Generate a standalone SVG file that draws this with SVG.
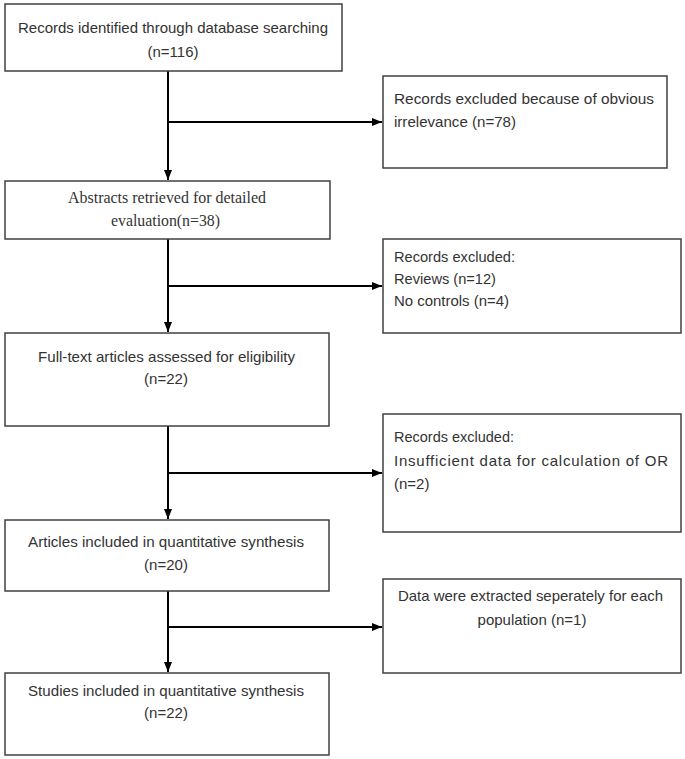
<svg xmlns="http://www.w3.org/2000/svg" width="685" height="759" viewBox="0 0 685 759">
<style>
.box{fill:#fff;stroke:#404040;stroke-width:1.5}
.t{font-family:"Liberation Sans",Arial,sans-serif;font-size:15px;fill:#333}
.s{font-family:"Liberation Serif","Times New Roman",serif;font-size:16px;fill:#333}
.c{text-anchor:middle}
.ln{stroke:#000;stroke-width:2;fill:none}
</style>
<defs>
<marker id="ah" markerWidth="10" markerHeight="8" refX="10" refY="4" orient="auto" markerUnits="userSpaceOnUse">
<path d="M0,0 L10,4 L0,8 z" fill="#000"/>
</marker>
</defs>
<rect width="685" height="759" fill="#fff"/>
<g id="connectors">
<path class="ln" d="M168,71 V180" marker-end="url(#ah)"/>
<path class="ln" d="M168,122 H382" marker-end="url(#ah)"/>
<path class="ln" d="M168,239 V332" marker-end="url(#ah)"/>
<path class="ln" d="M168,286 H382" marker-end="url(#ah)"/>
<path class="ln" d="M168,426 V519" marker-end="url(#ah)"/>
<path class="ln" d="M168,473 H382" marker-end="url(#ah)"/>
<path class="ln" d="M168,591 V672" marker-end="url(#ah)"/>
<path class="ln" d="M168,627 H382" marker-end="url(#ah)"/>
</g>
<g id="n1">
<rect class="box" x="5" y="4" width="337" height="67"/>
<text class="t" x="18" y="33" textLength="310" lengthAdjust="spacingAndGlyphs">Records identified through database searching</text>
<text class="t c" x="173" y="57">(n=116)</text>
</g>
<g id="n2">
<rect class="box" x="383" y="76" width="284" height="92"/>
<text class="t" x="394" y="104" textLength="260" lengthAdjust="spacingAndGlyphs">Records excluded because of obvious</text>
<text class="t" x="394" y="127" textLength="122" lengthAdjust="spacingAndGlyphs">irrelevance (n=78)</text>
</g>
<g id="n3">
<rect class="box" x="5" y="181" width="325" height="58"/>
<text class="s" x="68" y="203" textLength="198" lengthAdjust="spacingAndGlyphs">Abstracts retrieved for detailed</text>
<text class="s" x="111" y="226" textLength="109" lengthAdjust="spacingAndGlyphs">evaluation(n=38)</text>
</g>
<g id="n4">
<rect class="box" x="383" y="239" width="298" height="94"/>
<text class="t" x="394" y="262" textLength="121" lengthAdjust="spacingAndGlyphs">Records excluded:</text>
<text class="t" x="394" y="284" textLength="102" lengthAdjust="spacingAndGlyphs">Reviews (n=12)</text>
<text class="t" x="394" y="306" textLength="115" lengthAdjust="spacingAndGlyphs">No controls (n=4)</text>
</g>
<g id="n5">
<rect class="box" x="5" y="333" width="324" height="93"/>
<text class="t" x="38" y="362" textLength="257" lengthAdjust="spacingAndGlyphs">Full-text articles assessed for eligibility</text>
<text class="t c" x="166" y="384">(n=22)</text>
</g>
<g id="n6">
<rect class="box" x="383" y="414" width="298" height="118"/>
<text class="t" x="394" y="442" textLength="120" lengthAdjust="spacingAndGlyphs">Records excluded:</text>
<text class="t" x="394" y="466" textLength="274" lengthAdjust="spacing">Insufficient data for calculation of OR</text>
<text class="t" x="394" y="489">(n=2)</text>
</g>
<g id="n7">
<rect class="box" x="5" y="520" width="324" height="71"/>
<text class="t" x="28" y="547" textLength="276" lengthAdjust="spacingAndGlyphs">Articles included in quantitative synthesis</text>
<text class="t c" x="166" y="570">(n=20)</text>
</g>
<g id="n8">
<rect class="box" x="383" y="579" width="298" height="94"/>
<text class="t" x="398" y="601" textLength="265" lengthAdjust="spacingAndGlyphs">Data were extracted seperately for each</text>
<text class="t c" x="532" y="625">population (n=1)</text>
</g>
<g id="n9">
<rect class="box" x="5" y="673" width="324" height="82"/>
<text class="t" x="28" y="696" textLength="276" lengthAdjust="spacingAndGlyphs">Studies included in quantitative synthesis</text>
<text class="t c" x="166" y="718">(n=22)</text>
</g>
</svg>
